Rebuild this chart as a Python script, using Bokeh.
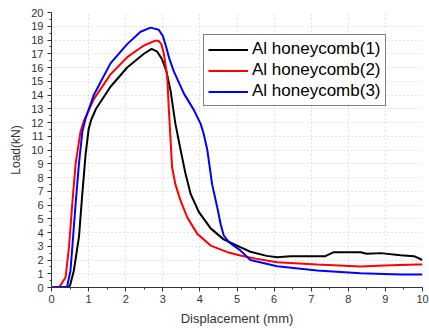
from bokeh.plotting import figure
from bokeh.models import Range1d, Legend, LegendItem, SingleIntervalTicker
from bokeh.embed import file_html
from bokeh.resources import INLINE

x1 = [0.0, 0.45, 0.5, 0.6, 0.74, 0.83, 0.92, 1.0, 1.07, 1.2, 1.59, 2.04, 2.49, 2.7, 2.85, 2.98, 3.1, 3.21, 3.34, 3.48, 3.61, 3.75, 3.97, 4.29, 4.64, 5.09, 5.36, 5.8, 6.08, 6.44, 7.38, 7.61, 8.33, 8.5, 8.87, 9.41, 9.77, 10.0]
y1 = [0.0, 0.0, 0.15, 1.2, 3.66, 6.8, 9.7, 11.5, 12.2, 13.0, 14.6, 16.0, 17.0, 17.35, 17.15, 16.6, 15.7, 14.3, 11.9, 10.0, 8.3, 6.8, 5.5, 4.3, 3.5, 2.93, 2.6, 2.3, 2.2, 2.28, 2.28, 2.57, 2.57, 2.45, 2.5, 2.35, 2.28, 2.0]

x2 = [0.0, 0.2, 0.24, 0.38, 0.47, 0.56, 0.65, 0.78, 0.87, 1.14, 1.59, 2.04, 2.49, 2.8, 2.88, 2.96, 3.03, 3.12, 3.16, 3.21, 3.25, 3.34, 3.48, 3.66, 3.93, 4.29, 4.74, 5.09, 5.5, 6.08, 7.16, 8.33, 8.96, 9.86, 10.0]
y2 = [0.0, 0.0, 0.15, 0.75, 2.9, 6.1, 9.0, 11.3, 12.1, 13.7, 15.5, 16.75, 17.6, 17.95, 17.95, 17.7, 17.0, 15.3, 13.1, 10.7, 8.75, 7.5, 6.3, 5.1, 3.9, 3.05, 2.57, 2.33, 2.1, 1.84, 1.67, 1.53, 1.6, 1.67, 1.67]

x3 = [0.0, 0.42, 0.51, 0.56, 0.65, 0.74, 0.83, 0.92, 1.14, 1.59, 2.04, 2.4, 2.67, 2.89, 3.0, 3.08, 3.17, 3.3, 3.57, 3.84, 4.02, 4.1, 4.2, 4.33, 4.47, 4.56, 4.64, 4.78, 5.09, 5.36, 6.08, 7.16, 8.33, 9.41, 10.0]
y3 = [0.0, 0.05, 1.2, 2.9, 6.1, 9.0, 11.3, 12.3, 14.0, 16.3, 17.7, 18.6, 18.9, 18.75, 18.3, 17.6, 16.7, 15.7, 14.1, 12.9, 11.9, 11.2, 10.0, 7.5, 5.8, 4.6, 3.8, 3.3, 2.7, 2.0, 1.55, 1.24, 1.04, 0.95, 0.95]

labels = ["Al honeycomb(1)", "Al honeycomb(2)", "Al honeycomb(3)"]
colors = ["#000000", "#ff0000", "#0000ff"]

p = figure(width=429, height=330, output_backend="svg", toolbar_location=None,
           x_range=Range1d(0, 10), y_range=Range1d(0, 20),
           min_border_left=51, min_border_right=7, min_border_top=12, min_border_bottom=43)
p.outline_line_color = None
p.background_fill_color = "white"

font = "Liberation Sans"
p.xaxis.ticker = SingleIntervalTicker(interval=1, num_minor_ticks=2)
p.yaxis.ticker = SingleIntervalTicker(interval=1, num_minor_ticks=2)
for ax in (p.xaxis[0], p.yaxis[0]):
    ax.major_label_text_font = font
    ax.major_label_text_font_size = "11px"
    ax.major_label_text_color = "#333333"
    ax.axis_label_text_font = font
    ax.axis_label_text_font_style = "normal"
    ax.axis_label_text_color = "#333333"
    ax.axis_line_color = "#333333"
    ax.major_tick_line_color = "#333333"
    ax.minor_tick_line_color = "#333333"
    ax.major_tick_out = 4
    ax.major_tick_in = 0
    ax.minor_tick_out = 2
    ax.minor_tick_in = 0
p.xaxis.axis_label = "Displacement (mm)"
p.yaxis.axis_label = "Load(kN)"
p.xaxis.axis_label_text_font_size = "13px"
p.yaxis.axis_label_text_font_size = "12px"
p.xaxis.major_label_standoff = 3
p.yaxis.major_label_standoff = 4

p.grid.grid_line_color = "#c8c8c8"
p.grid.grid_line_dash = "1 3"
p.grid.grid_line_width = 1

r1 = p.line(x1, y1, color=colors[0], line_width=2)
r2 = p.line(x2, y2, color=colors[1], line_width=2)
r3 = p.line(x3, y3, color=colors[2], line_width=2)

legend = Legend(items=[LegendItem(label=labels[0], renderers=[r1]),
                       LegendItem(label=labels[1], renderers=[r2]),
                       LegendItem(label=labels[2], renderers=[r3])],
                location=(152, 181))
legend.label_text_font = font
legend.label_text_font_size = "17px"
legend.label_text_color = "#000000"
legend.border_line_color = "#000000"
legend.border_line_width = 1
legend.glyph_width = 40
legend.glyph_height = 19
legend.label_height = 19
legend.spacing = 1
legend.padding = 4
legend.margin = 0
legend.label_standoff = 4
legend.background_fill_alpha = 1
p.add_layout(legend, "center")

open("out.html", "w").write(file_html(p, INLINE))
